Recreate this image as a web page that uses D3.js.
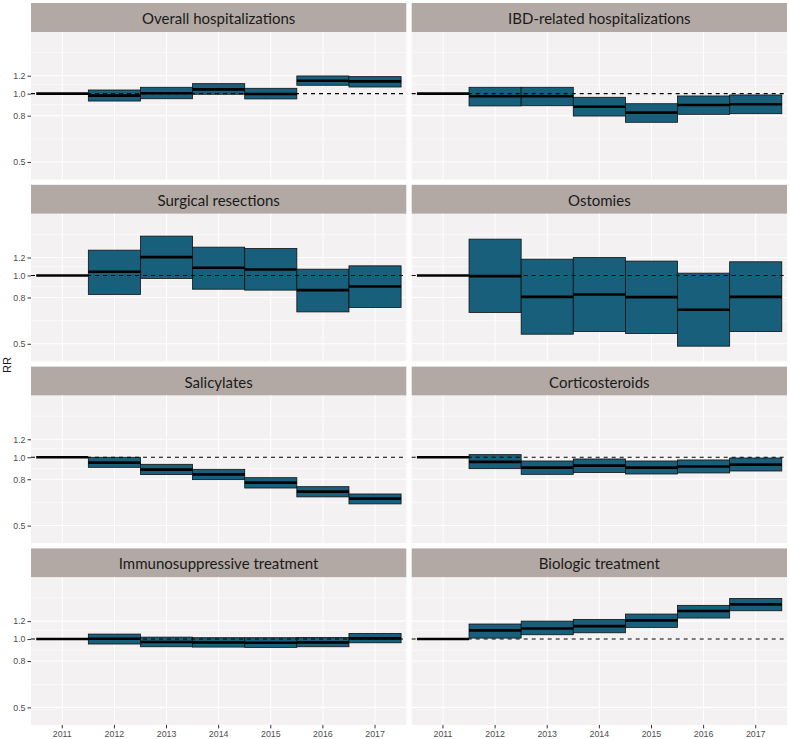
<!DOCTYPE html>
<html><head><meta charset="utf-8">
<script src="https://cdn.jsdelivr.net/npm/d3@7"></script>
<style>body{margin:0;background:#fff;}svg{display:block;}</style>
</head><body>
<svg id="chart" width="790" height="739"></svg>
<script>
const years = ["2011","2012","2013","2014","2015","2016","2017"];
const panelTitles = ["Overall hospitalizations","IBD-related hospitalizations","Surgical resections","Ostomies","Salicylates","Corticosteroids","Immunosuppressive treatment","Biologic treatment"];
const yTicks = [0.5, 0.8, 1.0, 1.2];
const yMinor = [0.632, 0.894, 1.095, 1.517];

const overallEst  = [1, 0.980, 1.004, 1.045, 0.997, 1.140, 1.133];
const overallLow  = [1, 0.928, 0.950, 0.994, 0.948, 1.089, 1.070];
const overallHigh = [1, 1.038, 1.067, 1.107, 1.056, 1.197, 1.189];

const ibdEst  = [1, 0.974, 0.974, 0.876, 0.825, 0.892, 0.898];
const ibdLow  = [1, 0.883, 0.885, 0.797, 0.748, 0.811, 0.816];
const ibdHigh = [1, 1.067, 1.067, 0.964, 0.903, 0.977, 0.987];

const surgEst  = [1, 1.038, 1.205, 1.081, 1.063, 0.862, 0.894];
const surgLow  = [1, 0.825, 0.970, 0.870, 0.862, 0.691, 0.723];
const surgHigh = [1, 1.293, 1.491, 1.333, 1.315, 1.066, 1.103];

const ostEst  = [1, 0.993, 0.805, 0.825, 0.803, 0.706, 0.805];
const ostLow  = [1, 0.687, 0.551, 0.566, 0.555, 0.488, 0.566];
const ostHigh = [1, 1.446, 1.180, 1.200, 1.157, 1.024, 1.149];

const salEst  = [1, 0.947, 0.882, 0.841, 0.773, 0.706, 0.657];
const salLow  = [1, 0.903, 0.839, 0.797, 0.732, 0.669, 0.623];
const salHigh = [1, 1.000, 0.931, 0.885, 0.813, 0.742, 0.689];

const corEst  = [1, 0.954, 0.900, 0.919, 0.900, 0.910, 0.928];
const corLow  = [1, 0.891, 0.841, 0.856, 0.844, 0.853, 0.870];
const corHigh = [1, 1.027, 0.963, 0.983, 0.963, 0.973, 0.993];

const immEst  = [1, 1.003, 0.970, 0.967, 0.963, 0.967, 1.007];
const immLow  = [1, 0.951, 0.925, 0.922, 0.919, 0.925, 0.963];
const immHigh = [1, 1.052, 1.020, 1.014, 1.014, 1.017, 1.059];

const bioEst  = [1, 1.092, 1.114, 1.141, 1.209, 1.329, 1.422];
const bioLow  = [1, 1.010, 1.045, 1.066, 1.126, 1.238, 1.333];
const bioHigh = [1, 1.165, 1.200, 1.221, 1.289, 1.408, 1.511];

const panelData = [
  [overallEst, overallLow, overallHigh],
  [ibdEst, ibdLow, ibdHigh],
  [surgEst, surgLow, surgHigh],
  [ostEst, ostLow, ostHigh],
  [salEst, salLow, salHigh],
  [corEst, corLow, corHigh],
  [immEst, immLow, immHigh],
  [bioEst, bioLow, bioHigh]
];

const svg = d3.select("#chart");
const colX = [31, 411.7];
const panelW = 375.3;
const rowStep = 181.8, top0 = 3, stripH = 29, panelH = 147.5;

const x = d3.scaleBand().domain(years).range([0, panelW]).paddingInner(0).paddingOuter(0.1);
const y = d3.scaleLog().domain([0.4185, 1.87]).range([panelH, 0]);

const fillCol = "#175f7b";

panelTitles.forEach((title, i) => {
  const col = i % 2, row = Math.floor(i / 2);
  const px = colX[col];
  const sy = top0 + row * rowStep;
  const py = sy + stripH;
  const [est, low, high] = panelData[i];
  const rows = years.map((yr, k) => ({yr, est: est[k], low: low[k], high: high[k]}));

  // strip
  svg.append("rect").attr("x", px).attr("y", sy).attr("width", panelW).attr("height", stripH).attr("fill", "#b2a9a4");
  svg.append("text").attr("x", px + panelW / 2).attr("y", sy + stripH / 2 + 0.5)
    .attr("text-anchor", "middle").attr("dominant-baseline", "central")
    .attr("font-family", "Lato, 'Open Sans', sans-serif").attr("font-size", 15)
    .attr("fill", "#1a1a1a").text(title);

  const g = svg.append("g").attr("transform", `translate(${px},${py})`);
  g.append("rect").attr("width", panelW).attr("height", panelH).attr("fill", "#f3f1f2");

  // minor grid
  g.selectAll(".ymin").data(yMinor).join("line")
    .attr("x1", 0).attr("x2", panelW).attr("y1", d => y(d)).attr("y2", d => y(d))
    .attr("stroke", "#ffffff").attr("stroke-width", 0.6);
  // major grid
  g.selectAll(".ymaj").data(yTicks).join("line")
    .attr("x1", 0).attr("x2", panelW).attr("y1", d => y(d)).attr("y2", d => y(d))
    .attr("stroke", "#ffffff").attr("stroke-width", 1.1);
  g.selectAll(".xmaj").data(years).join("line")
    .attr("x1", d => x(d) + x.bandwidth() / 2).attr("x2", d => x(d) + x.bandwidth() / 2)
    .attr("y1", 0).attr("y2", panelH)
    .attr("stroke", "#ffffff").attr("stroke-width", 1.1);

  // crossbars
  g.selectAll(".box").data(rows).join("rect")
    .attr("x", d => x(d.yr)).attr("width", x.bandwidth())
    .attr("y", d => y(d.high)).attr("height", d => Math.max(0, y(d.low) - y(d.high)))
    .attr("fill", fillCol).attr("stroke", "#111").attr("stroke-width", 0.8);
  g.selectAll(".mid").data(rows).join("line")
    .attr("x1", d => x(d.yr)).attr("x2", d => x(d.yr) + x.bandwidth())
    .attr("y1", d => y(d.est)).attr("y2", d => y(d.est))
    .attr("stroke", "#000").attr("stroke-width", 2.6);

  // reference line
  g.append("line").attr("x1", 0).attr("x2", panelW).attr("y1", y(1)).attr("y2", y(1))
    .attr("stroke", "#000").attr("stroke-width", 1.1).attr("stroke-dasharray", "4,4");

  // y axis
  if (col === 0) {
    const ya = g.append("g").call(d3.axisLeft(y).tickValues(yTicks).tickFormat(d3.format(".1f")).tickSize(3.5).tickPadding(2));
    ya.select(".domain").remove();
    ya.selectAll(".tick line").attr("stroke", "#333").attr("stroke-width", 1);
    ya.selectAll(".tick text").attr("fill", "#4d4d4d").attr("font-family", "Arial, 'Liberation Sans', sans-serif").attr("font-size", 8.8);
  }
  // x axis
  if (row === 3) {
    const xa = g.append("g").attr("transform", `translate(0,${panelH})`).call(d3.axisBottom(x).tickSize(3.5).tickPadding(2));
    xa.select(".domain").remove();
    xa.selectAll(".tick line").attr("stroke", "#333").attr("stroke-width", 1);
    xa.selectAll(".tick text").attr("fill", "#4d4d4d").attr("font-family", "Arial, 'Liberation Sans', sans-serif").attr("font-size", 8.8);
  }
});

svg.append("text").attr("transform", "translate(11,365) rotate(-90)")
  .attr("text-anchor", "middle").attr("font-family", "Arial, 'Liberation Sans', sans-serif")
  .attr("font-size", 11).attr("fill", "#1a1a1a").text("RR");
</script>
</body></html>
